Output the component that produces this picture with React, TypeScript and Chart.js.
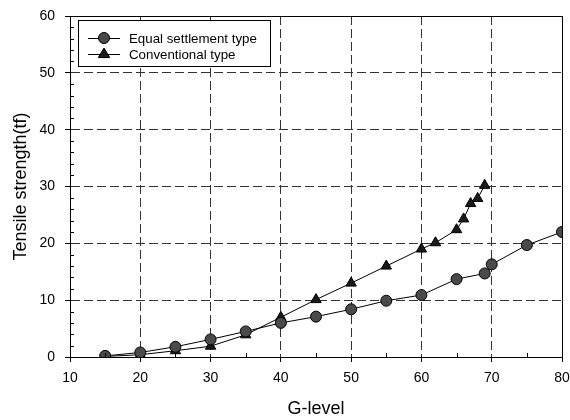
import React, { useEffect, useRef } from "react";
import { Chart, registerables } from "chart.js";

Chart.register(...registerables);

const equalX = [15, 20, 25, 30, 35, 40, 45, 50, 55, 60, 65, 69, 70, 75, 80];
const equalY = [0.2, 0.8, 1.8, 3.1, 4.5, 6.0, 7.1, 8.4, 9.9, 10.9, 13.7, 14.7, 16.3, 19.7, 22.0];

const convX = [15, 20, 25, 30, 35, 40, 45, 50, 55, 60, 62, 65, 66, 67, 68, 69];
const convY = [0.1, 0.4, 1.1, 1.9, 3.9, 7.0, 10.1, 13.0, 16.0, 19.0, 20.1, 22.4, 24.3, 27.0, 27.9, 30.2];

const seriesNames = ["Equal settlement type", "Conventional type"];
const xTitle = "G-level";
const yTitle = "Tensile strength(tf)";
const xMin = 10, xMax = 80, xStep = 10;
const yMin = 0, yMax = 60, yStep = 10;

const FONT = "'Liberation Sans', Arial, sans-serif";

const framePlugin = {
  id: "frame",
  afterDraw(chart: any) {
    const { ctx, chartArea } = chart;
    const { left, right, top, bottom } = chartArea;
    const xs = chart.scales.x;
    const ys = chart.scales.y;
    ctx.save();
    ctx.setLineDash([]);
    ctx.strokeStyle = "#000";
    ctx.lineWidth = 1;
    ctx.beginPath();
    ctx.rect(Math.round(left) + 0.5, Math.round(top) + 0.5, Math.round(right - left), Math.round(bottom - top));
    ctx.stroke();
    ctx.beginPath();
    for (let v = yMin + 2; v < yMax; v += 2) {
      if (v % yStep === 0) continue;
      const py = Math.round(ys.getPixelForValue(v)) + 0.5;
      ctx.moveTo(left, py);
      ctx.lineTo(left + 4, py);
    }
    for (let v = xMin + 5; v < xMax; v += 10) {
      const px = Math.round(xs.getPixelForValue(v)) + 0.5;
      ctx.moveTo(px, bottom);
      ctx.lineTo(px, bottom - 4);
    }
    ctx.stroke();
    ctx.restore();
  },
};

const legendPlugin = {
  id: "boxLegend",
  afterDraw(chart: any) {
    const { ctx, chartArea } = chart;
    const bx = chartArea.left + 8;
    const by = chartArea.top + 4;
    const bw = 192;
    const bh = 46;
    ctx.save();
    ctx.setLineDash([]);
    ctx.fillStyle = "#fff";
    ctx.fillRect(bx, by, bw, bh);
    ctx.strokeStyle = "#000";
    ctx.lineWidth = 1;
    ctx.strokeRect(Math.round(bx) + 0.5, Math.round(by) + 0.5, bw, bh);
    ctx.font = `13.3px ${FONT}`;
    ctx.textBaseline = "middle";
    ctx.textAlign = "left";
    chart.data.datasets.forEach((ds: any, i: number) => {
      const cy = by + 18 + i * 16;
      ctx.strokeStyle = "#000";
      ctx.lineWidth = 1;
      ctx.beginPath();
      ctx.moveTo(bx + 10, cy + 0.5);
      ctx.lineTo(bx + 42, cy + 0.5);
      ctx.stroke();
      ctx.fillStyle = ds.pointBackgroundColor;
      ctx.strokeStyle = "#000";
      ctx.beginPath();
      if (ds.pointStyle === "triangle") {
        const r = 6;
        ctx.moveTo(bx + 26, cy - r);
        ctx.lineTo(bx + 26 + r * 0.95, cy + r * 0.6);
        ctx.lineTo(bx + 26 - r * 0.95, cy + r * 0.6);
        ctx.closePath();
      } else {
        ctx.arc(bx + 26, cy, 5.5, 0, Math.PI * 2);
      }
      ctx.fill();
      ctx.stroke();
      ctx.fillStyle = "#000";
      ctx.fillText(ds.label, bx + 51, cy + 1);
    });
    ctx.restore();
  },
};

export default function App() {
  const ref = useRef<HTMLCanvasElement | null>(null);
  useEffect(() => {
    document.body.style.margin = "0";
    const canvas = ref.current;
    if (!canvas) return;
    const chart = new Chart(canvas, {
      type: "line",
      data: {
        datasets: [
          {
            label: seriesNames[0],
            data: equalX.map((x, i) => ({ x, y: equalY[i] })),
            borderColor: "#000",
            borderWidth: 1,
            pointStyle: "circle",
            pointRadius: 5.5,
            pointBackgroundColor: "#4a4a4a",
            pointBorderColor: "#000",
            pointBorderWidth: 1,
            tension: 0,
          },
          {
            label: seriesNames[1],
            data: convX.map((x, i) => ({ x, y: convY[i] })),
            borderColor: "#000",
            borderWidth: 1,
            pointStyle: "triangle",
            pointRadius: 6,
            pointBackgroundColor: "#1a1a1a",
            pointBorderColor: "#000",
            pointBorderWidth: 1,
            tension: 0,
          },
        ],
      },
      options: {
        animation: false,
        responsive: false,
        devicePixelRatio: 1,
        layout: { padding: { left: 0, right: 8, top: 16, bottom: 0 } },
        plugins: { legend: { display: false }, tooltip: { enabled: false } },
        scales: {
          x: {
            type: "linear",
            min: xMin,
            max: xMax,
            afterFit: (s: any) => { s.height = 63; s.paddingLeft = 0; s.paddingRight = 0; },
            ticks: {
              stepSize: xStep,
              color: "#000",
              font: { family: FONT, size: 14 },
              padding: 8,
              maxRotation: 0,
            },
            grid: {
              color: "#333",
              lineWidth: 1,
              drawTicks: true,
              tickLength: 5,
              tickColor: "#000",
              tickBorderDash: [],
            },
            border: { display: true, color: "#000", dash: [9, 4] },
            title: {
              display: true,
              text: xTitle,
              color: "#000",
              font: { family: FONT, size: 18 },
              padding: { top: 0, bottom: 0 },
            },
          },
          y: {
            type: "linear",
            min: yMin,
            max: yMax,
            afterFit: (s: any) => { s.width = 70; s.paddingTop = 0; s.paddingBottom = 0; },
            ticks: {
              stepSize: yStep,
              color: "#000",
              font: { family: FONT, size: 14 },
              padding: 10,
            },
            grid: {
              color: "#333",
              lineWidth: 1,
              drawTicks: true,
              tickLength: 5,
              tickColor: "#000",
              tickBorderDash: [],
            },
            border: { display: true, color: "#000", dash: [9, 4] },
            title: {
              display: true,
              text: yTitle,
              color: "#000",
              font: { family: FONT, size: 18 },
              padding: { top: 10, bottom: 10 },
            },
          },
        },
      },
      plugins: [framePlugin, legendPlugin],
    } as any);
    return () => chart.destroy();
  }, []);
  return (
    <div style={{ width: 570, height: 420 }}>
      <canvas ref={ref} width={570} height={420} style={{ display: "block" }} />
    </div>
  );
}
